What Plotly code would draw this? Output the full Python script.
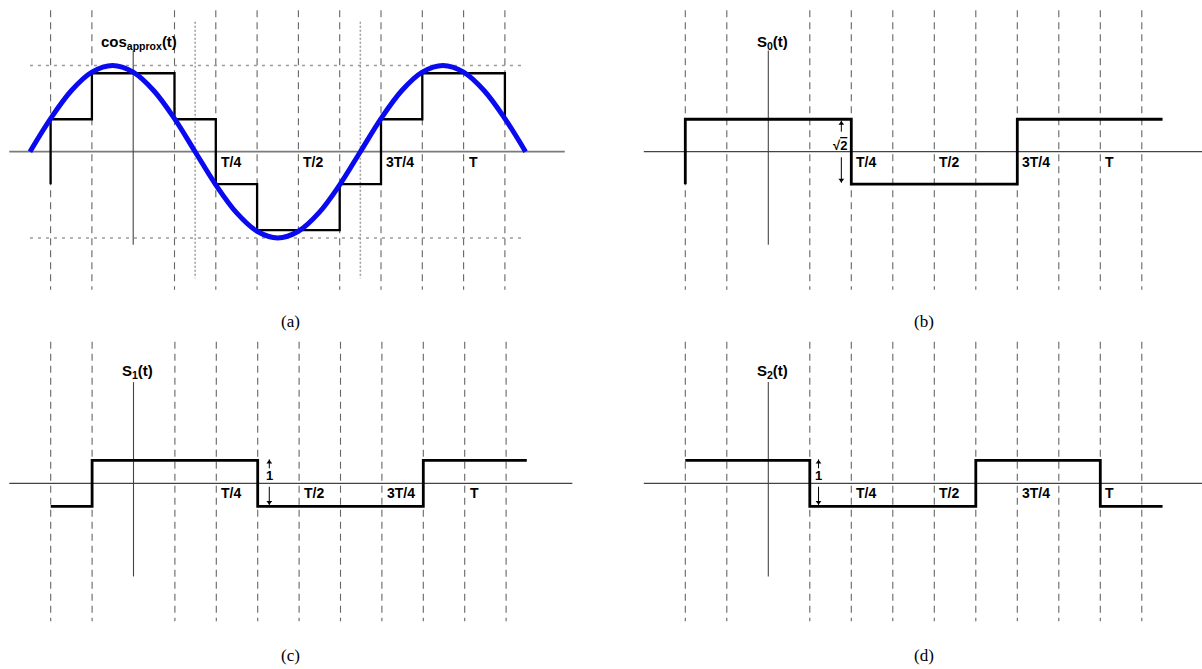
import plotly.graph_objects as go

W, H = 1202, 669

# ---------------- data (time in units of T/8, amplitude in units of the "1" step) -------------
grid_t = [-2, -1, 1, 2, 3, 4, 5, 6, 7, 8, 9]
tick_t = [2, 4, 6, 8]
tick_labels = ["T/4", "T/2", "3T/4", "T"]

cos_t = [-2.5, -2.0, -1.5, -1.0, -0.5, 0.0, 0.5, 1.0, 1.5, 2.0, 2.5, 3.0, 3.5,
         4.0, 4.5, 5.0, 5.5, 6.0, 6.5, 7.0, 7.5, 8.0, 8.5, 9.0, 9.5]
cos_v = [0.0, 1.44, 2.65, 3.46, 3.75, 3.46, 2.65, 1.44, 0.0, -1.44, -2.65, -3.46, -3.75,
         -3.46, -2.65, -1.44, 0.0, 1.44, 2.65, 3.46, 3.75, 3.46, 2.65, 1.44, 0.0]
cos_peak = 3.75
cos_zero_t = [1.5, 5.5]

stair_t = [-2, -2, -1, 1, 2, 3, 5, 6, 7, 9]
stair_v = [-1.41, 1.41, 3.41, 1.41, -1.41, -3.41, -1.41, 1.41, 3.41, 1.41]

s0_t = [-2, -2, 2, 6, 9.5]
s0_v = [-1.41, 1.41, -1.41, 1.41, 1.41]
s1_t = [-2, -1, 3, 7, 9.5]
s1_v = [-1, 1, -1, 1, 1]
s2_t = [-2, 1, 5, 8, 9.5]
s2_v = [1, -1, 1, -1, -1]

captions = ["(a)", "(b)", "(c)", "(d)"]

# ---------------- layout geometry (pixels) ----------------
SY = 23.0
panels = [
    dict(x0=0, x1=600, y0=0, y1=330, ox=133.2, sx=41.3, oy=151.7),
    dict(x0=600, x1=1202, y0=0, y1=330, ox=768.3, sx=41.5, oy=151.7),
    dict(x0=0, x1=600, y0=330, y1=669, ox=133.5, sx=41.4, oy=483.3),
    dict(x0=600, x1=1202, y0=330, y1=669, ox=768.3, sx=41.5, oy=483.3),
]

fig = go.Figure()
layout = dict(width=W, height=H, margin=dict(l=0, r=0, t=0, b=0),
              paper_bgcolor="white", plot_bgcolor="white", showlegend=False,
              autosize=False)
annotations = []

GRID_TOP, GRID_BOT = 6.15, -6.0
AXIS_TOP, AXIS_BOT = 4.4, -4.05
HAXIS_L, HAXIS_R = -3.0, 10.6

LBL_FONT = dict(family="Liberation Sans, Arial", size=14, color="black", weight="bold")


def sfx(i):
    return "" if i == 0 else str(i + 1)


def add_line(xs, ys, i, color, width, dash="solid", shape="linear"):
    fig.add_trace(go.Scatter(x=xs, y=ys, mode="lines", xaxis="x" + sfx(i), yaxis="y" + sfx(i),
                             line=dict(color=color, width=width, dash=dash, shape=shape),
                             hoverinfo="skip"))


def add_arrow(i, t, tail, head):
    add_line([t, t], [tail, head], i, "black", 1)
    sym = "triangle-up" if head > tail else "triangle-down"
    off = -0.12 if head > tail else 0.12
    fig.add_trace(go.Scatter(x=[t], y=[head + off], mode="markers", xaxis="x" + sfx(i),
                             yaxis="y" + sfx(i), hoverinfo="skip",
                             marker=dict(symbol=sym, size=5, color="black",
                                         line=dict(width=0))))


for i, p in enumerate(panels):
    suffix = sfx(i)
    xr = [(p["x0"] - p["ox"]) / p["sx"], (p["x1"] - p["ox"]) / p["sx"]]
    yr = [(p["oy"] - p["y1"]) / SY, (p["oy"] - p["y0"]) / SY]
    ax = dict(range=xr, domain=[p["x0"] / W, p["x1"] / W], visible=False, fixedrange=True)
    ay = dict(range=yr, domain=[1 - p["y1"] / H, 1 - p["y0"] / H], visible=False, fixedrange=True)
    if i > 0:
        ax["anchor"] = "y" + suffix
        ay["anchor"] = "x" + suffix
    layout["xaxis" + suffix] = ax
    layout["yaxis" + suffix] = ay

    # dashed vertical grid
    gx, gy = [], []
    for t in grid_t:
        gx += [t, t, None]
        gy += [GRID_TOP, GRID_BOT, None]
    add_line(gx, gy, i, "#666666", 1.1, dash="7px,5px")

    xref, yref = "x" + suffix, "y" + suffix

    if i == 0:
        # dotted helper lines
        hx, hy = [], []
        for v in (cos_peak, -cos_peak):
            hx += [cos_t[0], cos_t[-1], None]
            hy += [v, v, None]
        add_line(hx, hy, i, "#9a9a9a", 1.5, dash="3px,5px")
        vx, vy = [], []
        for t in cos_zero_t:
            vx += [t, t, None]
            vy += [5.65, -5.5, None]
        add_line(vx, vy, i, "#9a9a9a", 1.5, dash="2px,2px")
        add_line([HAXIS_L, 10.45], [0, 0], i, "#7a7a7a", 1.8)
    else:
        add_line([HAXIS_L, HAXIS_R], [0, 0], i, "#444444", 1.2)
    add_line([0, 0], [AXIS_TOP, AXIS_BOT], i, "#444444", 1.1)

    # waveforms
    if i == 0:
        add_line(stair_t, stair_v, i, "black", 2.3, shape="hv")
        add_line(cos_t, cos_v, i, "#0a0af0", 5, shape="spline")
        title = "cos<sub>approx</sub>(t)"
    elif i == 1:
        add_line(s0_t, s0_v, i, "black", 2.8, shape="hv")
        title = "S<sub>0</sub>(t)"
    elif i == 2:
        add_line(s1_t, s1_v, i, "black", 2.8, shape="hv")
        title = "S<sub>1</sub>(t)"
    else:
        add_line(s2_t, s2_v, i, "black", 2.8, shape="hv")
        title = "S<sub>2</sub>(t)"

    # title
    ty = 4.73 if i < 2 else 4.85
    annotations.append(dict(x=0.15 if i == 0 else 0.1, y=ty, xref=xref, yref=yref, text=title,
                            showarrow=False, xanchor="center", yanchor="middle",
                            font=dict(family="Liberation Sans, Arial", size=15, color="black",
                                      weight="bold")))
    # tick labels
    for t, lab in zip(tick_t, tick_labels):
        annotations.append(dict(x=t, y=0, xref=xref, yref=yref, text=lab, showarrow=False,
                                xanchor="left", yanchor="middle", xshift=3, yshift=-10,
                                font=LBL_FONT))
    # caption
    annotations.append(dict(x=(290 if i % 2 == 0 else 924) / W,
                            y=1 - ((321.7 if i < 2 else 655) / H),
                            xref="paper", yref="paper", text=captions[i], showarrow=False,
                            xanchor="center", yanchor="middle",
                            font=dict(family="Liberation Serif, Times New Roman", size=17,
                                      color="black")))

# amplitude markers
arrow_specs = [
    # panel, t, up head, up tail, down tail, down head, text, text v
    (1, 1.76, 1.35, 0.87, -0.24, -1.35, "√<span style='text-decoration:overline'>2</span>", 0.29),
    (2, 3.28, 1.04, 0.65, -0.15, -0.94, "1", 0.36),
    (3, 1.21, 1.04, 0.65, -0.15, -0.94, "1", 0.36),
]
for (pi, t, uh, ut, dt, dh, txt, tv) in arrow_specs:
    add_arrow(pi, t, ut, uh)
    add_arrow(pi, t, dt, dh)
    annotations.append(dict(x=t - (0.04 if pi == 1 else 0.0), y=tv, xref="x" + sfx(pi),
                            yref="y" + sfx(pi), text=txt, showarrow=False,
                            xanchor="center", yanchor="middle",
                            font=dict(family="Liberation Sans, Arial", size=13, color="black",
                                      weight="bold")))

layout["annotations"] = annotations
fig.update_layout(**layout)

fig.write_html("out.html", config={"displayModeBar": False, "staticPlot": True},
               post_script="document.body.style.margin='0';document.body.style.overflow='hidden';")
